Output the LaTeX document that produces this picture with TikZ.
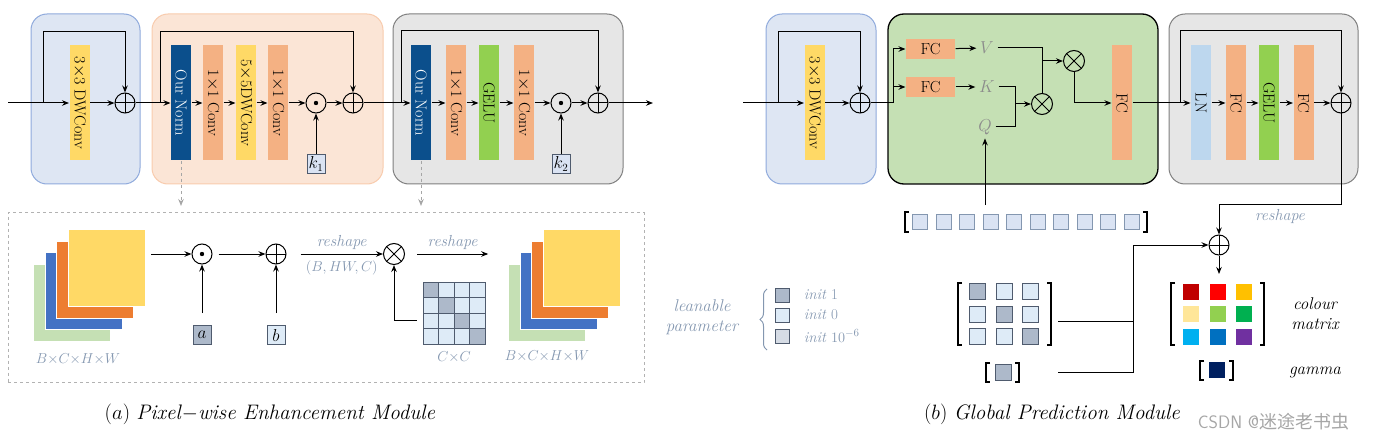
\documentclass[tikz,border=0pt]{standalone}
\usepackage{amsmath,amssymb}
\usepackage{fontspec}
\usetikzlibrary{arrows.meta,positioning,decorations.pathreplacing}
\newfontfamily\cjk{Noto Sans CJK SC}
\definecolor{bgblue}{HTML}{DEE6F3}
\definecolor{lnblue}{HTML}{8FAADC}
\definecolor{bgorange}{HTML}{FBE5D6}
\definecolor{lnorange}{HTML}{F8CBAD}
\definecolor{bggray}{HTML}{E6E6E6}
\definecolor{lngray}{HTML}{7F7F7F}
\definecolor{bggreen}{HTML}{C5E0B4}
\definecolor{cyellow}{HTML}{FFD966}
\definecolor{csalmon}{HTML}{F4B183}
\definecolor{cnorm}{HTML}{0B4F8C}
\definecolor{cgelu}{HTML}{92D050}
\definecolor{cln}{HTML}{BDD7EE}
\definecolor{corange}{HTML}{ED7D31}
\definecolor{cblue}{HTML}{4472C4}
\definecolor{cgreen}{HTML}{C5E0B4}
\definecolor{pdark}{HTML}{ADB9CA}
\definecolor{plight}{HTML}{DEEBF7}
\definecolor{pmid}{HTML}{D6DCE5}
\definecolor{pline}{HTML}{4F5B6E}
\definecolor{ctok}{HTML}{DAE3F3}
\definecolor{labc}{HTML}{8497B0}
\definecolor{qkvc}{HTML}{8C8C8C}
\definecolor{cm00}{HTML}{C00000}
\definecolor{cm01}{HTML}{FF0000}
\definecolor{cm02}{HTML}{FFC000}
\definecolor{cm10}{HTML}{FFE699}
\definecolor{cm11}{HTML}{92D050}
\definecolor{cm12}{HTML}{00B050}
\definecolor{cm20}{HTML}{00B0F0}
\definecolor{cm21}{HTML}{0070C0}
\definecolor{cm22}{HTML}{7030A0}
\definecolor{cgamma}{HTML}{002060}

\begin{document}
\begin{tikzpicture}[x=1pt, y=-1pt, line width=1pt,
  >={Stealth[length=7pt,width=5.5pt]},
  frame/.style={rounded corners=16pt, line width=1pt, minimum height=170pt},
  blk/.style={minimum width=20pt, minimum height=115pt, inner sep=0pt, font=\fontsize{16}{18}\selectfont},
  fcbox/.style={fill=csalmon, minimum width=49pt, minimum height=20pt, inner sep=0pt, font=\fontsize{16}{18}\selectfont},
  plus/.style={circle, draw, minimum size=20pt, inner sep=0pt,
    path picture={\draw (path picture bounding box.north) -- (path picture bounding box.south)
      (path picture bounding box.west) -- (path picture bounding box.east);}},
  mult/.style={circle, draw, minimum size=21pt, inner sep=0pt,
    path picture={\draw (path picture bounding box.north west) -- (path picture bounding box.south east)
      (path picture bounding box.north east) -- (path picture bounding box.south west);}},
  hprod/.style={circle, draw, minimum size=20pt, inner sep=0pt,
    path picture={\fill (path picture bounding box.center) circle (2.2pt);}},
  pbox/.style={draw=pline, minimum width=18pt, minimum height=19pt, inner sep=0pt, font=\fontsize{16}{18}\selectfont},
  layer/.style={minimum size=77pt, draw=white, line width=0.5pt, inner sep=0pt},
  cell/.style={minimum size=16pt, inner sep=0pt},
  pcell/.style={cell, draw=pline, line width=0.8pt},
  tok/.style={minimum size=15pt, inner sep=0pt, fill=ctok, draw=labc, line width=0.8pt},
  brk/.style={line width=1.8pt},
  lab/.style={text=labc, font=\fontsize{16}{18}\selectfont\itshape},
  mlab/.style={text=labc, font=\fontsize{14}{16}\selectfont},
  qkv/.style={text=qkvc, font=\fontsize{18}{20}\selectfont},
  captext/.style={font=\fontsize{21}{24}\selectfont}]
\useasboundingbox (0,0) rectangle (1382,441);

\node[frame, fill=bgblue, draw=lnblue, minimum width=109pt] (box_a1) at (85.5,99) {};
\node[frame, fill=bgorange, draw=lnorange, minimum width=231pt] (box_a2) at (267.5,99) {};
\node[frame, fill=bggray, draw=lngray, minimum width=230pt] (box_a3) at (508,99) {};
\node[frame, fill=bgblue, draw=lnblue, minimum width=110pt] (box_b1) at (821,99) {};
\node[frame, fill=bggreen, draw=black, line width=1.3pt, minimum width=270pt] (box_b2) at (1023,99) {};
\node[frame, fill=bggray, draw=lngray, minimum width=189pt] (box_b3) at (1263.5,99) {};

\coordinate (in_a) at (8,103);
\coordinate (s_1) at (43,103);
\node[blk, fill=cyellow] (dw_a) at (79.5,103) {\rotatebox{-90}{3$\times$3 DWConv}};
\node[plus] (add_a) at (125,103) {};
\coordinate (s_2) at (160,103);
\node[blk, fill=cnorm, text=white] (norm_a) at (181,103) {\rotatebox{-90}{Our Norm}};
\node[blk, fill=csalmon] (conv_a1) at (213,103) {\rotatebox{-90}{1$\times$1 Conv}};
\node[blk, fill=cyellow] (dwconv_a) at (246,103) {\rotatebox{-90}{5$\times$5DWConv}};
\node[blk, fill=csalmon] (conv_a2) at (278,103) {\rotatebox{-90}{1$\times$1 Conv}};
\node[hprod] (mul_a) at (316,103) {};
\node[plus] (add_a2) at (353,103) {};
\node[pbox, fill=ctok] (k_1) at (316,164) {$k_1$};
\coordinate (s_3) at (401,103);
\node[blk, fill=cnorm, text=white] (norm_b) at (421,103) {\rotatebox{-90}{Our Norm}};
\node[blk, fill=csalmon] (conv_b1) at (456,103) {\rotatebox{-90}{1$\times$1 Conv}};
\node[blk, fill=cgelu] (gelu_b) at (489,103) {\rotatebox{-90}{GELU}};
\node[blk, fill=csalmon] (conv_b2) at (524,103) {\rotatebox{-90}{1$\times$1 Conv}};
\node[hprod] (mul_b) at (561,103) {};
\node[plus] (add_b) at (598,103) {};
\node[pbox, fill=ctok] (k_2) at (561,164) {$k_2$};
\coordinate (out_a) at (653,103);

\path[->]
  (in_a) edge (dw_a)
  (dw_a) edge (add_a)
  (add_a) edge (norm_a)
  (norm_a) edge (conv_a1)
  (conv_a1) edge (dwconv_a)
  (dwconv_a) edge (conv_a2)
  (conv_a2) edge (mul_a)
  (mul_a) edge (add_a2)
  (k_1) edge (mul_a)
  (add_a2) edge (norm_b)
  (norm_b) edge (conv_b1)
  (conv_b1) edge (gelu_b)
  (gelu_b) edge (conv_b2)
  (conv_b2) edge (mul_b)
  (mul_b) edge (add_b)
  (k_2) edge (mul_b)
  (add_b) edge (out_a);
\draw[->] (s_1) -- ++(0,-71) -| (add_a);
\draw[->] (s_2) -- ++(0,-71) -| (add_a2);
\draw[->] (s_3) -- ++(0,-72) -| (add_b);
\draw[->, dashed, gray!70] (norm_a.south) -- ++(0,45);
\draw[->, dashed, gray!70] (norm_b.south) -- ++(0,45);

\node[draw=gray!60, dashed, line width=1pt, minimum width=636pt, minimum height=170pt] (pem) at (326,297.5) {};
\foreach \c [count=\i from 0] in {cgreen,cblue,corange,cyellow}
  \node[layer, fill=\c] (fa_\i) at (72+11.5*\i,302.5-11.5*\i) {};
\foreach \c [count=\i from 0] in {cgreen,cblue,corange,cyellow}
  \node[layer, fill=\c] (fb_\i) at (547+11.5*\i,302.5-11.5*\i) {};
\node[mlab] (sz_a) at (78,359) {$B{\times}C{\times}H{\times}W$};
\node[mlab] (sz_b) at (547,356) {$B{\times}C{\times}H{\times}W$};
\node[hprod] (mul_c) at (202,254) {};
\node[plus] (add_c) at (276,254) {};
\node[pbox, fill=pdark] (a_p) at (202,335) {$a$};
\node[pbox, fill=plight] (b_p) at (276,335) {$b$};
\node[mult] (tm_c) at (394,254) {};
\foreach \r in {0,...,3}
  \foreach \k in {0,...,3} {
    \ifnum\r=\k \def\pc{pdark}\else\def\pc{plight}\fi
    \node[pcell, fill=\pc, minimum size=15.5pt] (cc_\r\k) at (430.75+15.5*\k,289.75+15.5*\r) {};
  }
\node[mlab] (sz_c) at (454,357) {$C{\times}C$};

\draw[->] ([xshift=6pt]fa_3.east |- mul_c) -- (mul_c);
\draw[->] ([xshift=6pt]mul_c.east) -- (add_c);
\draw[->] ([xshift=14pt]add_c.east) -- (tm_c)
  node[lab, midway, above=1pt] {reshape}
  node[mlab, midway, below=3pt] {$(B,HW,C)$};
\draw[->] ([xshift=12pt]tm_c.east) -- ([xshift=-20pt]fb_0.west |- tm_c)
  node[lab, midway, above=1pt] {reshape};
\draw[->] ([xshift=-6pt]cc_20.west) -| (tm_c);
\draw[->] ([yshift=12pt]a_p.north) -- (mul_c);
\draw[->] ([yshift=12pt]b_p.north) -- (add_c);

\node[lab, align=center, font=\fontsize{17}{20}\selectfont\itshape] (lp) at (702,317) {leanable\\parameter};
\draw[labc, decorate, decoration={brace, amplitude=7pt}] (767,350) -- (767,289);
\node[pbox, fill=pdark, minimum width=14pt, minimum height=14pt] (ip_1) at (782,295) {};
\node[pbox, fill=plight, minimum width=14pt, minimum height=14pt] (ip_2) at (782,315) {};
\node[pbox, fill=pmid, minimum width=14pt, minimum height=14pt] (ip_3) at (782,336) {};
\node[mlab, anchor=west, font=\fontsize{15}{17}\selectfont] (it_1) at (800,295) {\textit{init} 1};
\node[mlab, anchor=west, font=\fontsize{15}{17}\selectfont] (it_2) at (800,315) {\textit{init} 0};
\node[mlab, anchor=west, font=\fontsize{15}{17}\selectfont] (it_3) at (800,336) {\textit{init} $10^{-6}$};

\node[captext] (cap_a) at (270,414) {$(a)$ \textit{Pixel}$-$\textit{wise Enhancement Module}};

\coordinate (in_b) at (743,103);
\coordinate (s_4) at (778,103);
\node[blk, fill=cyellow] (dw_b) at (814.5,103) {\rotatebox{-90}{3$\times$3 DWConv}};
\node[plus] (add_d) at (860,103) {};
\coordinate (sp) at (893,103);
\node[fcbox] (fc_v) at (930.5,49) {FC};
\node[fcbox] (fc_k) at (930.5,87) {FC};
\node[qkv] (v_l) at (987,48) {$V$};
\node[qkv] (k_l) at (987,87) {$K$};
\node[qkv] (q_l) at (985,127) {$Q$};
\coordinate (j_kq) at (1015,104);
\node[mult] (tm_k) at (1042,104) {};
\node[mult] (tm_v) at (1074,61) {};
\node[blk, fill=csalmon] (fc_o) at (1122,103) {\rotatebox{-90}{FC}};
\coordinate (s_5) at (1180,103);
\node[blk, fill=cln] (ln_c) at (1201,103) {\rotatebox{-90}{LN}};
\node[blk, fill=csalmon] (fc_c1) at (1236,103) {\rotatebox{-90}{FC}};
\node[blk, fill=cgelu] (gelu_c) at (1269,103) {\rotatebox{-90}{GELU}};
\node[blk, fill=csalmon] (fc_c2) at (1303.5,103) {\rotatebox{-90}{FC}};
\node[plus] (add_e) at (1341,103) {};
\node[plus] (add_f) at (1219,245) {};

\path[->]
  (in_b) edge (dw_b)
  (dw_b) edge (add_d)
  (fc_v) edge (v_l)
  (fc_k) edge (k_l)
  (j_kq) edge (tm_k)
  (fc_o) edge (ln_c)
  (ln_c) edge (fc_c1)
  (fc_c1) edge (gelu_c)
  (gelu_c) edge (fc_c2)
  (fc_c2) edge (add_e);
\draw (add_d) -- (sp);
\draw[->] (sp) |- (fc_v);
\draw[->] (sp) |- (fc_k);
\draw (v_l) -| (tm_k);
\draw[->] (tm_k |- tm_v) -- (tm_v);
\draw (k_l) -| (j_kq);
\draw (q_l) -| (j_kq);
\draw[->] (tm_v) |- (fc_o);
\draw[->] (s_4) -- ++(0,-71) -| (add_d);
\draw[->] (s_5) -- ++(0,-72) -| (add_e);
\draw[->] (add_e) -- ++(0,101) -| (add_f) node[lab, pos=0.25, below=2pt] {reshape};
\draw[->] (add_f) -- ++(0,29);

\foreach \i in {0,...,9}
  \node[tok] (t_\i) at (920+23.5*\i,222) {};
\draw[brk] (909,212) -| (905,232) -- (909,232);
\draw[brk] (1143,212) -| (1147,232) -- (1143,232);
\coordinate (tq) at (985,205);
\draw[->] (tq) -- (q_l);

\foreach \r in {0,1,2}
  \foreach \k in {0,1,2} {
    \ifnum\r=\k \def\pc{pdark}\else\def\pc{plight}\fi
    \node[pcell, fill=\pc] (pm_\r\k) at (977.3+26.7*\k,291.7+22.5*\r) {};
    \node[cell, fill=cm\r\k] (cm_\r\k) at (1191+26.5*\k,291.7+22.5*\r) {};
  }
\node[pcell, fill=pdark] (pg) at (1003,372) {};
\node[cell, fill=cgamma] (cg) at (1217,370) {};
\draw[brk] (962,283) -| (958,345) -- (962,345);
\draw[brk] (1047,283) -| (1051,345) -- (1047,345);
\draw[brk] (990,363) -| (986,382) -- (990,382);
\draw[brk] (1015,363) -| (1019,382) -- (1015,382);
\draw[brk] (1175,283) -| (1171,345) -- (1175,345);
\draw[brk] (1260,283) -| (1264,345) -- (1260,345);
\draw[brk] (1204,361) -| (1200,380) -- (1204,380);
\draw[brk] (1229,361) -| (1233,380) -- (1229,380);
\coordinate (m_out) at (1058,321);
\coordinate (g_out) at (1058,372);
\coordinate (j_m) at (1133,372);
\draw (m_out) -- (m_out -| j_m);
\draw[->] (g_out) -- (j_m) |- (add_f);
\node[font=\fontsize{17}{20}\selectfont\itshape, align=center] (cm_l) at (1315,314) {colour\\matrix};
\node[font=\fontsize{17}{20}\selectfont\itshape] (gm_l) at (1315,372) {gamma};

\node[captext] (cap_b) at (1052,414) {$(b)$ \textit{Global Prediction Module}};
\node[text=gray!70, font=\fontsize{18}{20}\selectfont\sffamily, anchor=west] (wm) at (1194,422) {CSDN @{\cjk 迷途老书虫}};
\end{tikzpicture}
\end{document}
